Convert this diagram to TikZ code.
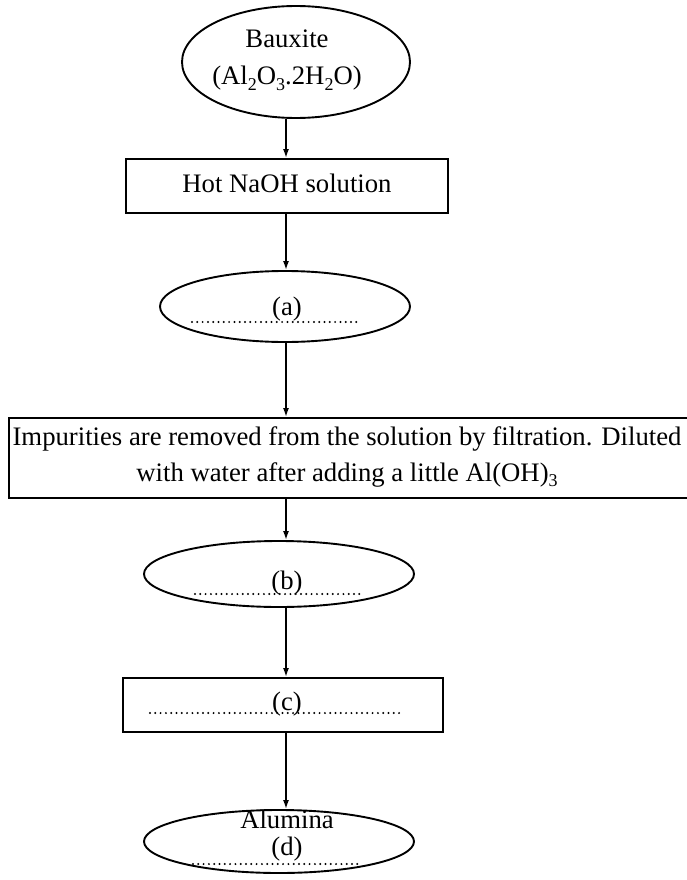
\documentclass[tikz,border=0pt]{standalone}
\usepackage{fontspec}
\setmainfont{Liberation Serif}
\usetikzlibrary{shapes.geometric,arrows.meta}
\newcommand\chemsub[1]{\raisebox{-5.5pt}{\fontsize{18}{18}\selectfont #1}}
\begin{document}
\begin{tikzpicture}[x=1pt,y=-1pt,
  box/.style={draw,line width=1.9pt,rectangle,inner sep=0pt},
  oval/.style={draw,line width=1.9pt,ellipse,inner sep=0pt},
  arr/.style={line width=1.6pt,-{Latex[length=9pt,width=6pt]}},
  dots/.style={line width=2.2pt,line cap=round,dash pattern=on 0pt off 5.3pt},
  txt/.style={font=\fontsize{26.7}{30}\selectfont,inner sep=0pt,anchor=base}]
\useasboundingbox (0,0) rectangle (687,880);
\coordinate (axis) at (286,0);
% shapes
\node[oval,minimum width=228pt,minimum height=112pt] (baux) at (296,62) {};
\node[box,minimum width=322pt,minimum height=54pt] (hot) at (287,186) {};
\node[oval,minimum width=250pt,minimum height=71pt] (ea) at (285,306.5) {};
\node[box,minimum width=681pt,minimum height=80pt] (imp) at (349.5,458) {};
\node[oval,minimum width=270pt,minimum height=66pt] (eb) at (279,574) {};
\node[box,minimum width=320pt,minimum height=54pt] (rc) at (283,705) {};
\node[oval,minimum width=270pt,minimum height=63pt] (ed) at (279,841.5) {};
% texts
\node[txt] (t1) at (287,48) {Bauxite};
\node[txt] (t2) at (287,85) {(Al\chemsub{2}O\chemsub{3}.2H\chemsub{2}O)};
\node[txt] (t3) at (287,192) {Hot NaOH solution};
\node[txt] (t4) at (287,315) {(a)};
\node[txt] (t5) at (347,445) {Impurities are removed from the solution by filtration. Diluted};
\node[txt] (t6) at (347,481) {with water after adding a little Al(OH)\chemsub{3}};
\node[txt] (t7) at (287,589) {(b)};
\node[txt] (t8) at (287,710) {(c)};
\node[txt] (t9) at (287,828) {Alumina};
\node[txt] (t10) at (287,855) {(d)};
% dotted lines
\draw[dots] (192,322) -- (360,322);
\draw[dots] (195,594) -- (362,594);
\draw[dots] (150,713) -- (403,713);
\draw[dots] (193,864) -- (362,864);
% connectors
\draw[arr] (axis |- baux.south) -- (axis |- hot.north);
\draw[arr] (axis |- hot.south) -- (axis |- ea.north);
\draw[arr] (axis |- ea.south) -- (axis |- imp.north);
\draw[arr] (axis |- imp.south) -- (axis |- eb.north);
\draw[arr] (axis |- eb.south) -- (axis |- rc.north);
\draw[arr] (axis |- rc.south) -- (axis |- ed.north);
\end{tikzpicture}
\end{document}
